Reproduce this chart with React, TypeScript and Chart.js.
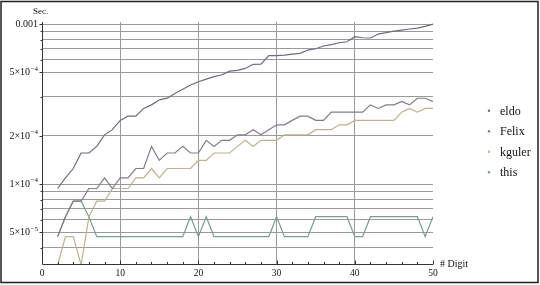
import { useEffect, useRef } from "react";
import { Chart, registerables } from "chart.js";

Chart.register(...registerables);

// ---- data ----
const digits = [2, 3, 4, 5, 6, 7, 8, 9, 10, 11, 12, 13, 14, 15, 16, 17, 18, 19, 20, 21, 22, 23, 24, 25, 26,
  27, 28, 29, 30, 31, 32, 33, 34, 35, 36, 37, 38, 39, 40, 41, 42, 43, 44, 45, 46, 47, 48, 49, 50];

const eldo = [9.375e-5, 1.09375e-4, 1.25e-4, 1.5625e-4, 1.5625e-4, 1.71875e-4, 2.03e-4, 2.1875e-4, 2.5e-4,
  2.656e-4, 2.656e-4, 2.97e-4, 3.125e-4, 3.36e-4, 3.44e-4, 3.68e-4, 3.91e-4, 4.16e-4, 4.36e-4, 4.53e-4,
  4.69e-4, 4.82e-4, 5.08e-4, 5.14e-4, 5.28e-4, 5.6e-4, 5.62e-4, 6.34e-4, 6.34e-4, 6.4e-4, 6.49e-4, 6.56e-4,
  6.88e-4, 7.01e-4, 7.29e-4, 7.43e-4, 7.64e-4, 7.75e-4, 8.33e-4, 8.21e-4, 8.18e-4, 8.66e-4, 8.83e-4,
  9.04e-4, 9.17e-4, 9.31e-4, 9.44e-4, 9.67e-4, 1.0e-3];

const felix = [4.6875e-5, 6.25e-5, 7.8125e-5, 7.8125e-5, 9.375e-5, 9.375e-5, 1.09375e-4, 9.375e-5, 1.09375e-4,
  1.09375e-4, 1.25e-4, 1.25e-4, 1.71875e-4, 1.40625e-4, 1.5625e-4, 1.5625e-4, 1.71875e-4, 1.5625e-4,
  1.5625e-4, 1.875e-4, 1.71875e-4, 1.875e-4, 1.875e-4, 2.03125e-4, 2.03125e-4, 2.1875e-4, 2.03125e-4,
  2.1875e-4, 2.34375e-4, 2.34375e-4, 2.5e-4, 2.65625e-4, 2.65625e-4, 2.5e-4, 2.5e-4, 2.8125e-4, 2.8125e-4,
  2.8125e-4, 2.8125e-4, 2.8125e-4, 3.125e-4, 2.96875e-4, 3.125e-4, 3.125e-4, 3.28125e-4, 3.125e-4,
  3.4375e-4, 3.4375e-4, 3.28125e-4];

const kguler = [3.125e-5, 4.6875e-5, 4.6875e-5, 3.125e-5, 6.25e-5, 7.8125e-5, 7.8125e-5, 9.375e-5, 9.375e-5,
  9.375e-5, 1.09375e-4, 1.09375e-4, 1.25e-4, 1.09375e-4, 1.25e-4, 1.25e-4, 1.25e-4, 1.25e-4, 1.40625e-4,
  1.40625e-4, 1.5625e-4, 1.5625e-4, 1.5625e-4, 1.71875e-4, 1.875e-4, 1.71875e-4, 1.875e-4, 1.875e-4,
  1.875e-4, 2.03125e-4, 2.03125e-4, 2.03125e-4, 2.03125e-4, 2.1875e-4, 2.1875e-4, 2.1875e-4, 2.34375e-4,
  2.34375e-4, 2.5e-4, 2.5e-4, 2.5e-4, 2.5e-4, 2.5e-4, 2.5e-4, 2.8125e-4, 2.96875e-4, 2.8125e-4,
  2.96875e-4, 2.96875e-4];

const thisSeries = [4.6875e-5, 6.25e-5, 7.8125e-5, 7.8125e-5, 6.25e-5, 4.6875e-5, 4.6875e-5, 4.6875e-5,
  4.6875e-5, 4.6875e-5, 4.6875e-5, 4.6875e-5, 4.6875e-5, 4.6875e-5, 4.6875e-5, 4.6875e-5, 4.6875e-5,
  6.25e-5, 4.6875e-5, 6.25e-5, 4.6875e-5, 4.6875e-5, 4.6875e-5, 4.6875e-5, 4.6875e-5, 4.6875e-5,
  4.6875e-5, 4.6875e-5, 6.25e-5, 4.6875e-5, 4.6875e-5, 4.6875e-5, 4.6875e-5, 6.25e-5, 6.25e-5, 6.25e-5,
  6.25e-5, 6.25e-5, 4.6875e-5, 4.6875e-5, 6.25e-5, 6.25e-5, 6.25e-5, 6.25e-5, 6.25e-5, 6.25e-5, 6.25e-5,
  4.6875e-5, 6.25e-5];

const seriesNames = ["eldo", "Felix", "kguler", "this"];
const seriesColors = ["#6c6c7c", "#857a88", "#bab292", "#7c9c8c"];

const yGridValues = [1e-3, 9e-4, 8e-4, 7e-4, 6e-4, 5e-4, 3.5e-4, 2e-4, 1e-4, 9e-5, 8e-5, 7e-5, 6e-5, 5e-5, 4e-5];
const yLabelValues = [1e-3, 5e-4, 2e-4, 1e-4, 5e-5];
const yLabelBases = ["0.001", "5×10", "2×10", "1×10", "5×10"];
const yLabelExps = ["", "−4", "−4", "−4", "−5"];

const xGridValues = [10, 20, 30, 40];
const xLabelValues = [0, 10, 20, 30, 40, 50];
const xMinorTicks = [2, 4, 6, 8, 10, 12, 14, 16, 18, 20, 22, 24, 26, 28, 30, 32, 34, 36, 38, 40, 42, 44, 46, 48, 50];

const xTitle = "# Digit";
const yTitle = "Sec.";

const SERIF = "'Liberation Serif', 'DejaVu Serif', serif";

const decor = {
  id: "decor",
  afterDatasetsDraw(chart: any) {
    const ctx = chart.ctx as CanvasRenderingContext2D;
    const { left, right, top, bottom } = chart.chartArea;
    const xs = chart.scales.x;
    const ys = chart.scales.y;
    ctx.save();
    const ax = Math.round(left) + 0.5;
    const ay = Math.round(bottom) + 0.5;
    ctx.strokeStyle = "#333";
    ctx.lineWidth = 1;
    ctx.beginPath();
    ctx.moveTo(ax, top);
    ctx.lineTo(ax, ay);
    ctx.lineTo(right, ay);
    ctx.stroke();

    // x ticks (inside, upward)
    ctx.beginPath();
    for (const v of xMinorTicks) {
      const px = Math.round(xs.getPixelForValue(v)) + 0.5;
      const len = v % 10 === 0 ? 4 : 2.5;
      ctx.moveTo(px, ay);
      ctx.lineTo(px, ay - len);
    }
    // y ticks (outside, left)
    for (const v of yGridValues) {
      const py = Math.round(ys.getPixelForValue(v)) + 0.5;
      const len = yLabelValues.includes(v) ? 3 : 2;
      ctx.moveTo(ax, py);
      ctx.lineTo(ax - len, py);
    }
    ctx.stroke();

    ctx.fillStyle = "#111";
    // x labels
    ctx.font = `9.5px ${SERIF}`;
    ctx.textAlign = "center";
    ctx.textBaseline = "middle";
    for (const v of xLabelValues) {
      ctx.fillText(String(v), xs.getPixelForValue(v), bottom + 9.5);
    }
    // y labels
    yLabelValues.forEach((v, i) => {
      const py = ys.getPixelForValue(v);
      const base = yLabelBases[i];
      const exp = yLabelExps[i];
      let xr = 38;
      if (exp) {
        ctx.font = `7px ${SERIF}`;
        const w = ctx.measureText(exp).width;
        ctx.textAlign = "right";
        ctx.textBaseline = "middle";
        ctx.fillText(exp, xr, py - 3.5);
        xr -= w + 0.5;
      }
      ctx.font = `10px ${SERIF}`;
      ctx.textAlign = "right";
      ctx.textBaseline = "middle";
      ctx.fillText(base, xr, py + 0.5);
    });
    // axis titles
    ctx.font = `9px ${SERIF}`;
    ctx.textAlign = "left";
    ctx.textBaseline = "middle";
    ctx.fillText(yTitle, 33, 11.5);
    ctx.font = `10px ${SERIF}`;
    ctx.fillText(xTitle, 440, bottom + 0.5);

    // legend
    const names = chart.data.datasets.map((d: any) => d.label);
    names.forEach((name: string, i: number) => {
      const baseY = 114.5 + i * 20.5;
      ctx.fillStyle = chart.data.datasets[i].borderColor;
      ctx.beginPath();
      ctx.arc(489, baseY - 3.8, 1.2, 0, Math.PI * 2);
      ctx.fill();
      ctx.fillStyle = "#111";
      ctx.font = `12px ${SERIF}`;
      ctx.textAlign = "left";
      ctx.textBaseline = "alphabetic";
      ctx.fillText(name, 500, baseY);
    });

    // outer frame
    ctx.strokeStyle = "#222";
    ctx.lineWidth = 1.5;
    ctx.strokeRect(1, 1.5, 537, 281);
    ctx.restore();
  },
};

export default function App() {
  const ref = useRef<HTMLCanvasElement | null>(null);

  useEffect(() => {
    document.body.style.margin = "0";
    const canvas = ref.current;
    if (!canvas) return;
    const seriesValues = [eldo, felix, kguler, thisSeries];
    const chart = new Chart(canvas, {
      type: "line",
      data: {
        datasets: seriesValues.map((vals, si) => ({
          label: seriesNames[si],
          data: digits.map((d, i) => ({ x: d, y: vals[i] })),
          borderColor: seriesColors[si],
          backgroundColor: seriesColors[si],
          borderWidth: 1.2,
          pointRadius: 0,
          tension: 0,
          fill: false,
        })),
      },
      options: {
        responsive: false,
        animation: false,
        devicePixelRatio: 1,
        layout: { padding: { left: 0, top: 22, right: 107, bottom: 0 } },
        plugins: { legend: { display: false }, tooltip: { enabled: false } },
        scales: {
          x: {
            type: "linear",
            min: 0,
            max: 50,
            ticks: { display: false },
            border: { display: false },
            grid: { color: "#9a9a9a", lineWidth: 1, drawTicks: false },
            afterBuildTicks: (scale: any) => {
              scale.ticks = xGridValues.map((v) => ({ value: v }));
            },
            afterFit: (scale: any) => {
              scale.height = 21;
            },
          },
          y: {
            type: "logarithmic",
            min: 3.1623e-5,
            max: 1.03e-3,
            ticks: { display: false },
            border: { display: false },
            grid: { color: "#9a9a9a", lineWidth: 1, drawTicks: false },
            afterBuildTicks: (scale: any) => {
              scale.ticks = yGridValues.map((v) => ({ value: v }));
            },
            afterFit: (scale: any) => {
              scale.width = 42;
            },
          },
        },
      },
      plugins: [decor],
    } as any);
    return () => chart.destroy();
  }, []);

  return <canvas ref={ref} width={540} height={285} style={{ display: "block" }} />;
}
